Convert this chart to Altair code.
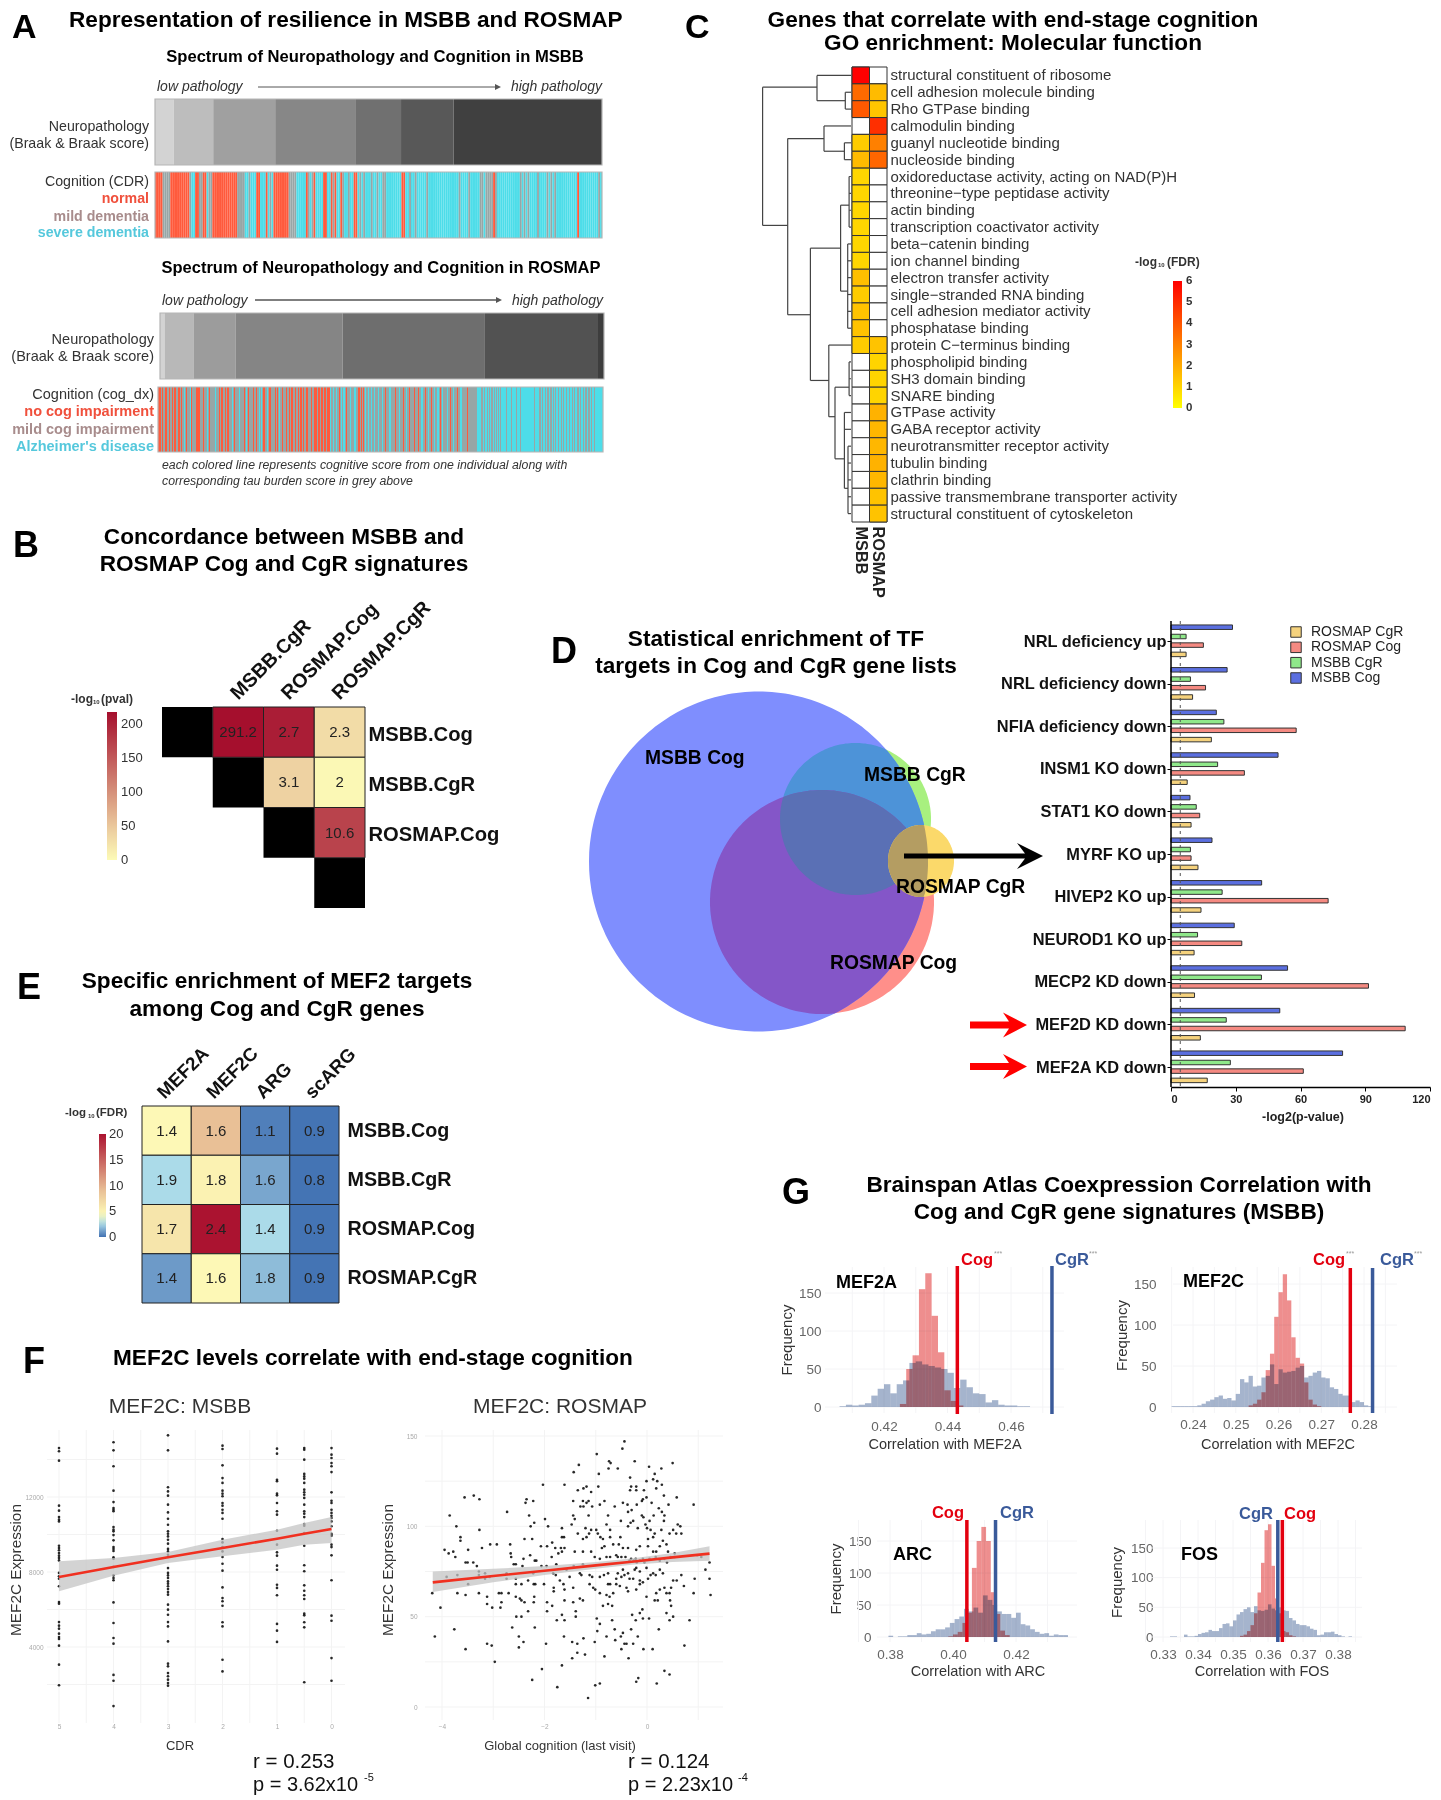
import math
import numpy as np
import pandas as pd
import altair as alt

W, H = 1425, 1792
FONT = "Liberation Sans"
TITLE = 22.6

# ---------- Panel A data ----------
msbb_braak_counts = [10, 21, 33, 43, 24, 28, 79]
msbb_braak_grey = ["#d3d3d3", "#bdbdbd", "#a0a0a0", "#878787", "#707070", "#585858", "#404040"]
rosmap_braak_counts = [5, 29, 42, 107, 142, 114, 6]
rosmap_braak_grey = ["#d3d3d3", "#b8b8b8", "#9c9c9c", "#858585", "#6e6e6e", "#525252", "#3d3d3d"]
cog_codes = ["N", "M", "S"]
cog_colors = ["#ff5a3c", "#97a6a6", "#4ddde9"]
msbb_cdr = ("NNNNMMMMNNNNNNNNNNMSSNNMMNNSMMNNNNNNNNNNNNNMMMMSSMSSSNNSSSNSMSNNNNNNNNMMMMSSSSSNMSMNSSSSNNSSNMNSSNMSSMSSNNSMSMSSSMSSMSSMMSSSSSSSSNNSSMSSMSSSSSMSSSSSSSSSSSSSSSSMSSSSMSSSSSMMSMMMMNMSSSSSSSSSSSSMSMSMSSSSMSSSSMSMSMSSSSSSSSSSSNSSSSSSSSSSMS")
rosmap_cog = ("NNNMNMMNNM" "MNMMNMNNMM" "NNMNMMSMNM" "MMSNMMMMNN" "NNMMMNMMMS" "MNMMMMMSMM" "MNMNNMMNMN"
              "NMMMSMNMMM" "MSMMMMNMSM" "NMMMMNMMNM" "MSMSMNNMMS" "MNNMMMMNMN" "MSMMNMMMNM" "MNMNNMMNMM"
              "NMNNMNMMNN" "MMMNMMNNNM" "NNMNNMNNMN" "NNSMMSMMSM" "MNMSMSSMNM" "MMSMMMSSMM" "NNMNMNMSMM"
              "SMMSMMSMMM" "SMMMSMMNMM" "MSSMMMMNMM" "MSMMMNMMSM" "MNMMMMNMMM" "NMMSSMMNMM" "SMMNMMSMMS"
              "SMNMSMMMMS" "MMNMMSMMMN" "MMSSMMMMMN" "MMMMMMMMMS" "SSSMMSMSSM" "SMSMMSMSMS" "MSMSSSSSMS"
              "SSSMSSSSMS" "SSMSSSSSSS" "SSSSSSMSSS" "SMMSMSSMSM" "MSMMSMSMSS" "MSSMSMSSMS" "SMSSMSMSSM"
              "MSMSSMSMMS" "MMSMSSMSSS" "SSSSS")

# ---------- Panel B data ----------
b_names = ["MSBB.Cog", "MSBB.CgR", "ROSMAP.Cog", "ROSMAP.CgR"]
b_rows = ["MSBB.Cog", "MSBB.Cog", "MSBB.Cog", "MSBB.CgR", "MSBB.CgR", "ROSMAP.Cog"]
b_cols = ["MSBB.CgR", "ROSMAP.Cog", "ROSMAP.CgR", "ROSMAP.Cog", "ROSMAP.CgR", "ROSMAP.CgR"]
b_color_val = [218, 205, 30, 40, 2, 170]
b_text = ["291.2", "2.7", "2.3", "3.1", "2", "10.6"]

# ---------- Panel C data ----------
c_terms = ["structural constituent of ribosome", "cell adhesion molecule binding", "Rho GTPase binding",
           "calmodulin binding", "guanyl nucleotide binding", "nucleoside binding",
           "oxidoreductase activity, acting on NAD(P)H", "threonine\u2212type peptidase activity", "actin binding",
           "transcription coactivator activity", "beta\u2212catenin binding", "ion channel binding",
           "electron transfer activity", "single\u2212stranded RNA binding", "cell adhesion mediator activity",
           "phosphatase binding", "protein C\u2212terminus binding", "phospholipid binding", "SH3 domain binding",
           "SNARE binding", "GTPase activity", "GABA receptor activity", "neurotransmitter receptor activity",
           "tubulin binding", "clathrin binding", "passive transmembrane transporter activity",
           "structural constituent of cytoskeleton"]
c_msbb = [6, 3.5, 3.9, None, 1.2, 1.6, .95, .95, .95, .95, .95, .95, 1.5, 1.2, 1.4, 1.4, 1.2,
          None, None, None, None, None, None, None, None, None, None]
c_rosmap = [None, 1.6, 1.35, 4.9, 3, 3.6, None, None, None, None, None, None, None, None, None, None, 1.4,
            1.0, 1.0, 1.0, 1.8, 1.7, 1.7, 1.8, 1.7, 1.4, 1.4]
dend_h = [(.7, 34, 88.4), (8.9, 63.3, 88.4), (0, 0, 34), (1.5, 5.7, 34), (1, 0, 5.7), (2, 0, 5.7),
          (3.75, 27, 63.3), (14.2, 40.6, 63.3), (3, 0, 27), (4.5, 6.6, 27), (4, 0, 6.6), (5, 0, 6.6),
          (10.25, 10.4, 40.6), (18.1, 22.2, 40.6), (7.7, 1.9, 10.4), (12.8, 3.3, 10.4), (6, 0, 1.9), (7, 0, 1.9),
          (8, 0, 1.9), (9, 0, 1.9), (10, 0, 3.3), (11, 0, 3.3), (12, 0, 3.3), (13, 0, 3.3), (14, 0, 3.3), (15, 0, 3.3),
          (16, 0, 22.2), (20.25, 16, 22.2), (18.5, 1.9, 16), (22.75, 6.6, 16), (17, 0, 1.9), (18, 0, 1.9), (19, 0, 1.9),
          (20, 0, 6.6), (21, 0, 6.6), (22, 0, 3), (23, 0, 3), (24, 0, 3), (25, 0, 3), (26, 0, 3), (24.5, 3, 6.6)]
dend_v = [(88.4, .7, 8.9), (34, 0, 1.5), (5.7, 1, 2), (63.3, 3.75, 14.2), (27, 3, 4.5), (6.6, 4, 5),
          (40.6, 10.25, 18.1), (10.4, 7.7, 12.8), (1.9, 6, 9), (3.3, 10, 15), (22.2, 16, 20.25),
          (16, 18.5, 22.75), (1.9, 17, 19), (6.6, 20, 24.5), (3, 22, 26)]

# ---------- Panel D data ----------
d_targets = ["NRL deficiency up", "NRL deficiency down", "NFIA deficiency down", "INSM1 KO down", "STAT1 KO down",
             "MYRF KO up", "HIVEP2 KO up", "NEUROD1 KO up", "MECP2 KD down", "MEF2D KD down", "MEF2A KD down"]
d_msbb_cog = [28.5, 26, 21, 49.6, 8.8, 19, 42, 29.3, 54, 50.4, 79.5]
d_msbb_cgr = [7, 9, 24.5, 21.6, 11.7, 9, 23.7, 12.3, 41.9, 25.6, 27.5]
d_rosmap_cog = [15, 16, 58, 34, 13.3, 9.3, 72.8, 32.8, 91.5, 108.5, 61.3]
d_rosmap_cgr = [7, 10, 18.7, 7.5, 9.3, 12.5, 13.9, 10.7, 10.9, 13.6, 16.8]
d_series_names = ["ROSMAP CgR", "ROSMAP Cog", "MSBB CgR", "MSBB Cog"]
d_series_colors = ["#f5d27d", "#f58a82", "#8fe88a", "#5b6fe0"]
d_ticks = [0, 30, 60, 90, 120]
d_cutoff = [4.3]
venn_names = ["MSBB Cog", "MSBB CgR", "ROSMAP Cog", "ROSMAP CgR"]
venn_cx = [758.5, 855.5, 822, 921]
venn_cy = [861.5, 819, 902, 861]
venn_rx = [169.5, 75.5, 112, 33]
venn_ry = [170, 76, 112, 36]

# ---------- Panel E data ----------
e_cols = ["MEF2A", "MEF2C", "ARG", "scARG"]
e_rows = ["MSBB.Cog", "MSBB.CgR", "ROSMAP.Cog", "ROSMAP.CgR"]
e_color_val = [[4.5, 9, .3, 0], [2.5, 5, 1.3, 0], [6, 20, 2.5, 0], [1, 4.5, 1.8, 0]]
e_text = [["1.4", "1.6", "1.1", "0.9"], ["1.9", "1.8", "1.6", "0.8"], ["1.7", "2.4", "1.4", "0.9"], ["1.4", "1.6", "1.8", "0.9"]]

# ---------- Panel F data ----------
msbb_cols = {
    5: [14.61, 14.44, 13.94, 11.54, 11.27, 10.93, 10.79, 10.70, 9.40, 9.28, 9.16, 9.01, 8.87, 8.75, 8.62, 7.95, 7.77, 7.64, 7.24, 6.40, 6.31, 5.33, 5.14, 4.98, 4.71, 4.53, 4.43, 4.07, 3.06, 1.96],
    4: [14.92, 14.49, 13.64, 12.34, 11.73, 11.41, 11.32, 11.24, 10.4, 10.26, 10.17, 9.97, 9.69, 9.33, 9.23, 9.12, 8.78, 8.71, 8.27, 7.82, 7.68, 7.56, 6.38, 5.28, 4.48, 4.18, 2.51, 2.2, .85],
    3: [15.29, 14.49, 12.52, 12.3, 12.07, 11.59, 11.18, 10.84, 10.52, 10.17, 10.04, 9.9, 9.72, 9.51, 9.23, 9.1, 8.92, 8.8, 8.21, 7.95, 7.82, 7.68, 7.5, 7.38, 7.24, 7.09, 6.93, 6.79, 6.26, 5.99, 5.72, 5.33, 5.1, 4.3, 3.11, 2.97, 2.61, 2.44, 2.26, 2.08, 1.94],
    2: [14.74, 14.56, 13.69, 13.01, 12.75, 12.34, 12.18, 12.04, 11.68, 11.54, 11.32, 11.15, 10.84, 9.76, 9.58, 9.33, 9.1, 8.8, 8.44, 8.07, 7.18, 6.61, 6.44, 6.2, 5.32, 5.1, 3.32, 2.7],
    1: [14.58, 14.31, 12.92, 12.84, 12.18, 12.09, 11.68, 11.24, 11.06, 10.2, 9.46, 9.05, 8.87, 8.34, 8.12, 7.32, 7.15, 6.76, 5.23, 4.87, 4.27],
    .5: [14.61, 14.52, 13.99, 13.23, 13.1, 12.98, 12.75, 12.39, 12.25, 12.12, 11.95, 11.59, 11.24, 11.11, 10.93, 10.56, 10.47, 10.08, 9.4, 8.36, 8.04, 7.29, 7.0, 6.76, 6.56, 5.78, 5.69, 5.32, 5.05, 2.12],
    0: [14.61, 14.26, 14.08, 13.81, 13.64, 13.33, 12.25, 11.8, 11.68, 11.32, 11.15, 11.0, 10.88, 10.7, 10.44, 10.03, 9.94, 9.46, 9.33, 8.89, 7.56, 5.67, 5.4, 3.41, 2.2],
}
msbb_fit_x = [5, 4, 3, 2, 1, .5, 0]
msbb_fit = [7733, 8266, 8782, 9280, 9778, 10044, 10293]
msbb_lo = [6968, 7804, 8480, 8835, 9191, 9457, 9546]
msbb_hi = [8568, 8746, 9066, 9724, 10258, 10613, 10933]
rosmap_points = [
 (-.44,147),(-.48,143),(-.98,140),(-.24,136),(.5,135),(-.74,136),(-.71,135),(-.75,132),(-.57,132),(-1.33,134),(-1.43,130),(-.94,129),(.04,133),(.28,132),(.15,129),(-.33,127),
 (-2.03,123),(-1.61,123),(-.95,122),(-1.18,122),(-1.35,120),(-1.24,121),(-1.09,119),(-.31,122),(-.21,122),(-.33,120),(-.06,120),(-.01,125),(.12,126),(.2,125),(.29,123),(.18,121),(-.21,120),
 (-3.38,117),(-3.56,116),(-3.27,115),(-2.35,115),(-2.37,113),(-2.22,114),(-1.44,114),(-1.25,114),(-1.18,113),(-1.14,114),(-1.3,111),(-1.24,111),(-1.07,111),(-.92,112),(-.83,114),(-.47,113),(-.38,112),(-.63,111),
 (-.01,116),(-.08,115),(-.1,114),(.33,117),(.58,116),(.42,112),(.91,112),(.09,113),(.23,110),(.29,108),(.34,106),(-.2,112),(-.3,109),(-2.73,108),(-3.85,106),(-2.3,106),(-1.44,106),(-1.41,104),(-1.14,106),(-.76,106),
 (-1.99,104),(-2.2,102),(-.51,103),(-.37,108),(-.27,103),(-.32,102),(-.1,106),(-.07,105),(.05,103),(-.03,101),(0,99),(.13,106),(.33,103),(.6,101),(.65,100),(-3.72,100),(-2.27,100),(-1.93,100),(-1.66,99),(-1.47,101),
 (-.79,101),(-.72,98),(-1.2,99),(-1.09,98),(-.99,98),(-3.27,98),(-.37,100),(-.18,99),(.07,98),(.28,98),(.51,98),(.44,96),(.57,96),(.67,96),(.15,96),(.02,93),(.12,94),
 (-1.35,96),(-1.13,96),(-1.18,94),(-1.25,93),(-1.66,94),(-1.62,94),(-.96,96),(-.91,94),(-.86,93),(-.72,94),(-.52,94),(-3.64,94),(-3.64,92),(-2.39,93),(-2.24,93),(-1.85,91),(-3.06,90),(-2.93,90),(-2.67,90),
 (-3.95,87),(-3.87,85),(-3.78,86),(-3.74,83),(-3.49,87),(-3.22,88),(-2.07,89),(-1.95,89),(-1.79,88),(-1.68,88),(-1.61,88),(-1.41,86),(-1.25,86),(-1.09,86),(-.88,88),(-.83,89),(-.66,90),(-.55,90),(-.47,88),(-.37,88),(-.21,87),(-.14,89),(.02,89),(.25,89),(.38,90),(.31,92),(.18,86),(.12,86),(.41,86),(.54,85),
 (-2.66,85),(-2.65,83),(-2.28,84),(-2.41,82),(-1.86,83),(-1.73,85),(-1.66,86),
 (-3.54,80),(-3.5,80),(-3.39,80),(-3.32,78),(-2.6,79),(-2.56,79),(-2.43,78),(-2.19,81),(-2.16,81),(-2.06,78),(-1.96,78),(-1.77,79),(-1.43,78),(-1.25,79),(-1.02,83),(-.92,82),(-.79,83),(-.72,83),(-.6,84),(-.57,83),(-.5,83),(-.42,83),(-.34,81),(-.31,82),(-.26,81),(-.22,82),(-.2,80),(-.14,81),(-.08,82),(-.05,80),(.05,82),(.17,83),(.25,81),(.34,82),(.39,80),(.46,83),(.54,83),(.98,84),(1.06,83),(1.22,80),(1.14,76),(1.22,71),(1.24,62),(.93,71),(.91,63),(.67,73),(.72,67),(.47,66),(.44,63),
 (-3.7,73),(-3.91,72),(-3.28,75),(-3.28,73),(-3.16,74),(-3.16,71),(-3.07,72),(-2.74,74),(-2.74,71),(-3.49,68),(-2.56,71),(-2.56,68),(-2.45,68),(-2.32,70),(-2.22,74),(-2.21,68),(-2.18,68),(-2.01,68),(-1.83,74),(-1.78,73),(-1.57,76),(-1.51,72),(-1.7,70),(-1.63,68),(-1.82,66),(-1.82,64),(-1.61,65),(-1.44,66),(-1.31,74),(-1.28,73),(-1.12,73),(-1.07,72),(-1.12,68),(-1.05,66),(-1.01,65),(-.92,72),(-.84,73),(-.76,74),(-.76,68),(-.72,68),(-.6,71),(-.57,74),(-.5,72),(-.47,76),(-.44,73),(-.37,74),(-.34,71),(-.27,71),(-.24,76),(-.21,77),(-.14,75),(-.14,70),(-.6,68),(-.53,67),(-.4,66),(-.37,64),(-.21,65),(-.14,68),(-.01,77),(.07,73),(.12,74),(.17,73),(.02,71),(-.08,69),(.25,76),(.31,74),(.51,70),(.58,70),(.34,66),(.25,65),(.18,63),(.38,63),
 (-4.19,63),(-4.03,55),(-3.7,63),(-3.54,62),(-3.28,63),(-3.12,61),(-3.12,57),(-3.02,55),(-2.89,63),(-2.84,63),(-2.84,58),(-2.86,55),(-2.7,63),(-2.56,61),(-2.48,60),(-2.45,59),(-2.39,58),(-2.2,61),(-2.21,58),(-1.95,58),(-1.85,56),(-1.95,53),(-1.76,48),(-1.66,51),(-1.61,48),(-1.61,59),(-1.44,58),(-1.39,53),(-1.39,50),(-1.31,60),(-1.25,59),(-.92,63),(-.86,56),(-.76,57),(-.68,56),(-.79,62),(-.73,61),(-.66,63),(-.98,49),(-.92,46),(-.68,48),(-.97,42),(-.63,43),(-.47,41),(-.29,51),(-.14,52),(-.22,48),(-.08,49),(.04,49),(-.01,61),(.15,59),(.21,59),(-.09,54),(.45,59),(.47,56),(.51,50),(.44,48),(.38,52),(.83,48),(.23,43),(-.31,43),(-.18,39),
 (-4.14,39),(-3.76,43),(-3.54,32),(-3.12,35),(-3.03,34),(-2.97,25),(-2.63,44),(-2.55,50),(-2.45,50),(-2.32,53),(-2.5,39),(-2.41,36),(-2.5,33),(-2.19,44),(-1.97,35),(-2.05,21),(-2.24,15),(-1.75,11),(-1.66,23),(-1.62,39),(-1.46,36),(-1.36,35),(-1.24,38),(-1.02,36),(-1.46,27),(-1.36,30),(-1.21,29),(-.83,28),(-1.15,5),(-1.01,12),(-.92,13),(-.79,39),(-.62,37),(-.51,39),(-.44,35),(-.4,35),(-.5,32),(-.36,27),(-.27,35),(-.07,32),(.11,32),(-.17,16),(-.21,14),(.19,13),(.34,20),(.44,18),(.73,34),
]
rosmap_fit_x = [-4.18, -3, -2, -1, -.3, .5, 1.22]
rosmap_fit = [69, 72.5, 75.4, 78.4, 80.4, 82.8, 84.9]
rosmap_lo = [63.7, 69, 73, 76.5, 78.8, 80.3, 81]
rosmap_hi = [75, 76.5, 78, 80.3, 82.2, 85.3, 89]

# ---------- Panel G data ----------
g_mef2a_red = [.425, .002, [4, 50, 68, 155, 176, 120, 72, 22, 8, 2]]
g_mef2a_blue = [.406, .002, [1, 3, 2, 3, 5, 15, 24, 30, 18, 30, 35, 58, 60, 56, 54, 52, 50, 45, 25, 36, 26, 18, 17, 6, 9, 3, 2, 2, 1, 1]]
g_mef2c_red = [.253, .001, [2, 4, 9, 18, 45, 65, 110, 140, 162, 130, 85, 60, 53, 30, 9, 3, 1]]
g_mef2c_blue = [.235, .001, [1, 1, 1, 1, 1, 1, 2, 4, 7, 9, 12, 14, 10, 11, 8, 16, 34, 30, 38, 25, 26, 36, 38, 52, 28, 46, 42, 43, 44, 48, 50, 36, 38, 42, 44, 36, 35, 24, 22, 16, 14, 14, 6, 8, 6, 2, 1]]
g_arc_red = [.3985, .0015, [1, 4, 8, 22, 38, 108, 150, 172, 150, 70, 36, 10, 3]]
g_arc_blue = [.3795, .0015, [2, 0, 1, 1, 3, 3, 6, 4, 5, 9, 12, 12, 15, 22, 28, 32, 44, 40, 46, 38, 65, 58, 50, 40, 36, 36, 30, 38, 20, 18, 12, 8, 5, 6, 2, 4, 3, 3]]
g_fos_red = [.352, .001, [2, 4, 10, 20, 40, 75, 125, 180, 190, 120, 65, 40, 10, 8, 3, 1]]
g_fos_blue = [.332, .001, [1, 1, 0, 0, 4, 1, 1, 2, 5, 7, 8, 12, 10, 10, 15, 22, 23, 18, 28, 38, 42, 47, 50, 42, 52, 45, 44, 46, 55, 48, 45, 50, 45, 44, 32, 28, 22, 20, 20, 18, 14, 12, 3, 4, 8, 8, 9, 5, 3, 1, 0, 1]]
g_lines = {"MEF2A": (.4431, .4729), "MEF2C": (.2768, .2820), "ARC": (.4044, .4135), "FOS": (.3641, .3628)}
COG_RED, CGR_BLUE = "#e3000f", "#3a5a9a"
ONE = pd.DataFrame({"a": [0]})
layers = []


def lin(d0, d1, p0, p1):
    return alt.Scale(type="linear", domain=[d0, d1], range=[p0 - 8, p1 - 8], nice=False, zero=False)


def band(dom, p0, p1):
    return alt.Scale(type="band", domain=dom, range=[p0 - 8, p1 - 8], paddingInner=0, paddingOuter=0)


def pts(dom, p0, p1):
    return alt.Scale(type="point", domain=dom, range=[p0 - 8, p1 - 8], padding=0)


def T(s, x, y, size=14, bold=False, italic=False, color="#000", align="left", angle=0):
    kw = dict(fontSize=size, font=FONT, color=color, align=align, baseline="middle")
    if bold:
        kw["fontWeight"] = "bold"
    if italic:
        kw["fontStyle"] = "italic"
    if angle:
        kw["angle"] = angle
    layers.append(alt.Chart(pd.DataFrame({"t": [s]})).mark_text(**kw).encode(
        x=alt.value(x - 8), y=alt.value(y - 8), text="t:N"))


def R(x1, y1, x2, y2, color="#000", width=1.0):
    layers.append(alt.Chart(ONE).mark_rule(color=color, strokeWidth=width).encode(
        x=alt.value(x1 - 8), x2=alt.value(x2 - 8), y=alt.value(y1 - 8), y2=alt.value(y2 - 8)))


def shape(path, x, y, color):
    layers.append(alt.Chart(ONE).mark_point(shape=path, size=4, filled=True, fill=color, opacity=1, strokeWidth=0).encode(
        x=alt.value(x - 8), y=alt.value(y - 8)))


def frame(x0, x1, y0, y1, color="#b5b5b5", width=1.2):
    layers.append(alt.Chart(ONE).mark_rect(fillOpacity=0, stroke=color, strokeWidth=width).encode(
        x=alt.value(x0 - 8), x2=alt.value(x1 - 8), y=alt.value(y0 - 8), y2=alt.value(y1 - 8)))


def grey_bar(counts, greys, x0, x1, y0, y1):
    edges = np.cumsum([0] + counts)
    df = pd.DataFrame({"s": edges[:-1], "e": edges[1:], "stage": list(range(len(counts)))})
    layers.append(alt.Chart(df).mark_rect().encode(
        x=alt.X("s:Q", scale=lin(0, int(edges[-1]), x0, x1), axis=None),
        x2="e:Q",
        y=alt.value(y0 - 8), y2=alt.value(y1 - 8),
        color=alt.Color("stage:N", scale=alt.Scale(domain=list(range(len(counts))), range=greys), legend=None)))
    frame(x0, x1, y0, y1)


def strip(codes, x0, x1, y0, y1):
    df = pd.DataFrame({"s": range(len(codes)), "e": range(1, len(codes) + 1), "c": list(codes)})
    layers.append(alt.Chart(df).mark_rect().encode(
        x=alt.X("s:Q", scale=lin(0, len(codes), x0, x1), axis=None),
        x2="e:Q",
        y=alt.value(y0 - 8), y2=alt.value(y1 - 8),
        color=alt.Color("c:N", scale=alt.Scale(domain=cog_codes, range=cog_colors), legend=None)))
    frame(x0, x1, y0, y1)


# ------------------------------------------------------------- Panel A
T("A", 12, 28, 34, True)
T("Representation of resilience in MSBB and ROSMAP", 69, 19.5, TITLE, True)
T("Spectrum of Neuropathology and Cognition in MSBB", 375, 57, 16.6, True, align="center")
T("low pathology", 157, 87, 14, italic=True, color="#333")
R(258, 87, 498, 87, "#555", 1)
shape("M 0 0 L -6 -3 L -6 3 Z", 501, 87, "#555")
T("high pathology", 602, 87, 14, italic=True, color="#333", align="right")
grey_bar(msbb_braak_counts, msbb_braak_grey, 155, 602, 99, 165)
strip(msbb_cdr, 155, 602, 172, 238)
for s, y, c, b in [("Neuropathology", 127, "#333", False), ("(Braak & Braak score)", 144, "#333", False),
                   ("Cognition (CDR)", 182, "#333", False), ("normal", 199, "#f0503c", True),
                   ("mild dementia", 217, "#a88c8c", True), ("severe dementia", 233, "#55c8dc", True)]:
    T(s, 149, y, 14.2, b, color=c, align="right")
T("Spectrum of Neuropathology and Cognition in ROSMAP", 381, 268, 16.5, True, align="center")
T("low pathology", 162, 301, 14, italic=True, color="#333")
R(255, 300, 498, 300, "#555", 1.5)
shape("M 0 0 L -6 -3 L -6 3 Z", 502, 300, "#555")
T("high pathology", 603, 301, 14, italic=True, color="#333", align="right")
grey_bar(rosmap_braak_counts, rosmap_braak_grey, 160, 604, 313, 379)
strip(rosmap_cog, 158, 603, 387, 452)
for s, y, c, b in [("Neuropathology", 340, "#333", False), ("(Braak & Braak score)", 357, "#333", False),
                   ("Cognition (cog_dx)", 395, "#333", False), ("no cog impairment", 412, "#f0503c", True),
                   ("mild cog impairment", 430, "#a88c8c", True), ("Alzheimer's disease", 447, "#55c8dc", True)]:
    T(s, 154, y, 14.5, b, color=c, align="right")
T("each colored line represents cognitive score from one individual along with", 162, 465, 12.3, italic=True, color="#333")
T("corresponding tau burden score in grey above", 162, 481, 12.3, italic=True, color="#333")

# ------------------------------------------------------------- Panel B
T("B", 13, 546, 36, True)
T("Concordance between MSBB and", 284, 537, TITLE, True, align="center")
T("ROSMAP Cog and CgR signatures", 284, 564, TITLE, True, align="center")
bx = band(b_names, 162, 365)
by = band(b_names, 707, 908)
layers.append(alt.Chart(pd.DataFrame({"r": b_names, "c": b_names})).mark_rect(color="#000").encode(
    x=alt.X("c:N", scale=bx, axis=None), y=alt.Y("r:N", scale=by, axis=None)))
b_df = pd.DataFrame({"r": b_rows, "c": b_cols, "v": b_color_val, "t": b_text})
b_color = alt.Scale(domain=[-.5, 35, 218], range=["#fcfab6", "#f0d7a5", "#a50f2d"], interpolate="rgb")
layers.append(alt.Chart(b_df).mark_rect(stroke="#222", strokeWidth=1).encode(
    x=alt.X("c:N", scale=bx, axis=alt.Axis(orient="top", offset=-(696 - 8), values=b_names[1:], labelAngle=-45,
            labelAlign="left", labelBaseline="middle", labelFontSize=19.7, labelFontWeight="bold", labelFont=FONT, labelColor="#111",
            ticks=False, domain=False, title=None, labelPadding=0, labelOffset=-4)),
    y=alt.Y("r:N", scale=by, axis=alt.Axis(orient="right", offset=-(W - (368 - 8)), values=b_names[:3],
            labelFontSize=20.2, labelFontWeight="bold", labelFont=FONT, labelColor="#111", ticks=False, domain=False, title=None, labelPadding=0, labelAlign="left", labelOffset=2.5)),
    color=alt.Color("v:Q", scale=b_color, legend=alt.Legend(orient="none", legendX=107 - 8, legendY=712 - 8, title=None,
                    gradientLength=148, gradientThickness=10, values=[0, 50, 100, 150, 200], labelFontSize=13,
                    labelFont=FONT, labelOffset=4, labelColor="#333", padding=0, gradientStrokeWidth=0))))
layers.append(alt.Chart(b_df).mark_text(fontSize=15, font=FONT, color="#222").encode(
    x=alt.X("c:N", scale=bx, axis=None), y=alt.Y("r:N", scale=by, axis=None), text="t:N"))
T("-log", 71, 699, 12, True, color="#333")
T("10", 93, 702, 6, True, color="#333")
T("(pval)", 101, 699, 12, True, color="#333")

# ------------------------------------------------------------- Panel C
T("C", 685, 28, 34, True)
T("Genes that correlate with end-stage cognition", 1013, 19.5, TITLE, True, align="center")
T("GO enrichment: Molecular function", 1013, 42.5, TITLE, True, align="center")
c_cols = ["MSBB", "ROSMAP"]
cx = band(c_cols, 852, 887)
cy = band(c_terms, 67, 522)
c_df = pd.DataFrame({"term": c_terms * 2, "c": ["MSBB"] * 27 + ["ROSMAP"] * 27, "v": c_msbb + c_rosmap})
layers.append(alt.Chart(c_df).mark_rect(fill="#fff", stroke="#333", strokeWidth=1).encode(
    x=alt.X("c:N", scale=cx, axis=alt.Axis(orient="bottom", offset=(526 - 8) - H, labelAngle=90, labelAlign="left",
            labelBaseline="middle", labelFontSize=16.3, labelFontWeight="bold", labelFont=FONT, labelColor="#222", ticks=False, domain=False,
            title=None, labelPadding=0)),
    y=alt.Y("term:N", scale=cy, axis=alt.Axis(orient="right", offset=-(W - (890 - 8)), labelFontSize=15, labelFont=FONT,
            labelColor="#333", ticks=False, domain=False, title=None, labelPadding=0, labelAlign="left", labelLimit=400))))
c_color = alt.Scale(domain=[-.01, 6.01], range=["#ffff00", "#ff0000"], interpolate="rgb")
layers.append(alt.Chart(c_df.dropna()).mark_rect(stroke="#333", strokeWidth=1).encode(
    x=alt.X("c:N", scale=cx, axis=None), y=alt.Y("term:N", scale=cy, axis=None),
    color=alt.Color("v:Q", scale=c_color, legend=alt.Legend(orient="none", legendX=1173 - 8, legendY=281 - 8, title=None,
                    gradientLength=127, gradientThickness=9, values=[0, 1, 2, 3, 4, 5, 6], labelFontSize=11.5, labelFontWeight="bold",
                    labelFont=FONT, labelOffset=4, labelColor="#333", padding=0, gradientStrokeWidth=0))))
dx = lin(0, 88.4, 851, 762.6)
dy = lin(0, 26, 75.4, 513.6)
layers.append(alt.Chart(pd.DataFrame(dend_h, columns=["r", "a", "b"])).mark_rule(color="#444", strokeWidth=1.2).encode(
    x=alt.X("a:Q", scale=dx, axis=None), x2="b:Q", y=alt.Y("r:Q", scale=dy, axis=None)))
layers.append(alt.Chart(pd.DataFrame(dend_v, columns=["h", "a", "b"])).mark_rule(color="#444", strokeWidth=1.2).encode(
    x=alt.X("h:Q", scale=dx, axis=None), y=alt.Y("a:Q", scale=dy, axis=None), y2="b:Q"))
T("-log", 1135, 262, 12, True, color="#333")
T("10", 1158, 265, 6, True, color="#333")
T("(FDR)", 1167, 262, 12, True, color="#333")


# ------------------------------------------------------------- Panel D
def boundary(i, n=240):
    th = np.linspace(0, 2 * math.pi, n, endpoint=False)
    return np.c_[venn_cx[i] + venn_rx[i] * np.cos(th), venn_cy[i] + venn_ry[i] * np.sin(th)]


def inside(i, p):
    return ((p[:, 0] - venn_cx[i]) / venn_rx[i]) ** 2 + ((p[:, 1] - venn_cy[i]) / venn_ry[i]) ** 2 <= 1.0


def region(idx, color):
    pnts = []
    for i in idx:
        b = boundary(i)
        keep = np.ones(len(b), bool)
        for j in idx:
            if j != i:
                keep &= inside(j, b)
        pnts.append(b[keep])
    p = np.vstack(pnts)
    c = p.mean(axis=0)
    order = np.argsort(np.arctan2(p[:, 1] - c[1], p[:, 0] - c[0]))
    p = p[order] - c
    path = "M " + " L ".join(f"{a:.1f} {b:.1f}" for a, b in p) + " Z"
    shape(path, float(c[0]), float(c[1]), color)


T("D", 551, 652, 36, True)
T("Statistical enrichment of TF", 776, 639, TITLE, True, align="center")
T("targets in Cog and CgR gene lists", 776, 666, TITLE, True, align="center")
region([2], "#ff8f8a")
region([1], "#a8f07f")
region([0], "#7f8efe")
region([0, 1], "#4d93d8")
region([0, 2], "#8456c8")
region([0, 1, 2], "#5a70b5")
region([3], "#fbd96a")
region([3, 0], "#b49d62")
T("MSBB Cog", 645, 758, 19.3, True)
T("MSBB CgR", 864, 775, 19.3, True)
T("ROSMAP CgR", 896, 887, 19.3, True)
T("ROSMAP Cog", 830, 963, 19.3, True)
shape("M 0 0 L -26 -13 L -18 -2.5 L -139 -2.5 L -139 2.5 L -18 2.5 L -26 13 Z", 1043, 856, "#000")
for yy in [1025, 1066.5]:
    shape("M 0 0 L -24 -12.5 L -18 -3.5 L -57 -3.5 L -57 3.5 L -18 3.5 L -24 12.5 Z", 1027, yy, "#ff0000")

d_x = lin(0, 120, 1171, 1430)
d_offsets = {"MSBB Cog": -13.8, "MSBB CgR": -4.5, "ROSMAP Cog": 4.1, "ROSMAP CgR": 13.4}
d_vals = {"MSBB Cog": d_msbb_cog, "MSBB CgR": d_msbb_cgr, "ROSMAP Cog": d_rosmap_cog, "ROSMAP CgR": d_rosmap_cgr}
for name, col in zip(d_series_names, d_series_colors):
    off = d_offsets[name]
    layers.append(alt.Chart(pd.DataFrame({"t": d_targets, "v": d_vals[name]})).mark_bar(
        height=4.5, color=col, stroke="#333", strokeWidth=1).encode(
        x=alt.X("v:Q", scale=d_x, axis=None),
        y=alt.Y("t:N", scale=pts(d_targets, 641 + off, 1067 + off), axis=None)))
layers.append(alt.Chart(pd.DataFrame({"t": d_targets, "v": [0] * 11})).mark_point(opacity=0).encode(
    x=alt.X("v:Q", scale=d_x, axis=alt.Axis(orient="bottom", offset=(1087 - 8) - H, values=d_ticks, labelFontSize=11,
            labelFont=FONT, labelFontWeight="bold", labelColor="#222", tickColor="#000", tickSize=4, domainColor="#000", domainWidth=1.5,
            title=None, grid=False, labelPadding=2, format="d", labelFlush=True, labelOverlap=False)),
    y=alt.Y("t:N", scale=pts(d_targets, 641, 1067), axis=alt.Axis(orient="left", offset=-(1171 - 8), labelFontSize=16.4,
            labelFont=FONT, labelFontWeight="bold", labelColor="#111", tickColor="#000", tickSize=4, domain=False, title=None,
            grid=False, labelPadding=1, labelLimit=300))))
R(1171, 621, 1171, 1087, "#000", 1.5)
layers.append(alt.Chart(pd.DataFrame({"v": d_cutoff})).mark_rule(color="#555", strokeDash=[3, 4], strokeWidth=1).encode(
    x=alt.X("v:Q", scale=d_x, axis=None), y=alt.value(621 - 8), y2=alt.value(1087 - 8)))
T("-log2(p-value)", 1303, 1117, 12.5, True, color="#222", align="center")
leg_y = pts(d_series_names, 632, 678)
leg_df = pd.DataFrame({"n": d_series_names})
layers.append(alt.Chart(leg_df).mark_point(shape="square", filled=True, size=110, stroke="#333", strokeWidth=1, opacity=1).encode(
    x=alt.value(1296 - 8), y=alt.Y("n:N", scale=leg_y, axis=None),
    fill=alt.Color("n:N", scale=alt.Scale(domain=d_series_names, range=d_series_colors), legend=None)))
layers.append(alt.Chart(leg_df).mark_text(align="left", fontSize=14, font=FONT, color="#222").encode(
    x=alt.value(1311 - 8), y=alt.Y("n:N", scale=leg_y, axis=None), text="n:N"))

# ------------------------------------------------------------- Panel E
T("E", 17, 988, 36, True)
T("Specific enrichment of MEF2 targets", 277, 981, TITLE, True, align="center")
T("among Cog and CgR genes", 277, 1009, TITLE, True, align="center")
ex = band(e_cols, 142, 339)
ey = band(e_rows, 1106, 1303)
e_df = pd.DataFrame({
    "r": [r for r in e_rows for _ in e_cols], "c": e_cols * 4,
    "v": [v for row in e_color_val for v in row], "t": [t for row in e_text for t in row]})
e_color = alt.Scale(domain=[-.05, 1.2, 2.5, 4.5, 9, 20.05],
                    range=["#4272b3", "#75a2cc", "#abdbe9", "#fdf8b6", "#e9c096", "#ab1230"], interpolate="rgb")
layers.append(alt.Chart(e_df).mark_rect(stroke="#222", strokeWidth=1).encode(
    x=alt.X("c:N", scale=ex, axis=alt.Axis(orient="top", offset=-(1095 - 8), labelAngle=-45, labelAlign="left",
            labelBaseline="middle", labelFontSize=18.8, labelFontWeight="bold", labelFont=FONT, labelColor="#111", ticks=False, domain=False,
            title=None, labelPadding=0, labelOffset=-6)),
    y=alt.Y("r:N", scale=ey, axis=alt.Axis(orient="right", offset=-(W - (347 - 8)), labelFontSize=19.7, labelFontWeight="bold", labelFont=FONT,
            labelColor="#111", ticks=False, domain=False, title=None, labelPadding=0, labelAlign="left", labelLimit=300)),
    color=alt.Color("v:Q", scale=e_color, legend=alt.Legend(orient="none", legendX=99 - 8, legendY=1134 - 8, title=None,
                    gradientLength=103, gradientThickness=7, values=[0, 5, 10, 15, 20], labelFontSize=13, labelFont=FONT,
                    labelOffset=3, labelColor="#333", padding=0, gradientStrokeWidth=0))))
layers.append(alt.Chart(e_df).mark_text(fontSize=15, font=FONT, color="#222").encode(
    x=alt.X("c:N", scale=ex, axis=None), y=alt.Y("r:N", scale=ey, axis=None), text="t:N"))
T("-log", 65, 1113, 11.5, True, color="#333")
T("10", 88, 1116, 6, True, color="#333")
T("(FDR)", 96, 1113, 11.5, True, color="#333")

# ------------------------------------------------------------- Panel F
T("F", 23, 1362, 36, True)
T("MEF2C levels correlate with end-stage cognition", 113, 1358, TITLE, True)
T("MEF2C: MSBB", 180, 1407, 21, color="#333", align="center")
T("MEF2C: ROSMAP", 560, 1407, 21, color="#333", align="center")
GRID = "#f3f3f3"
fx = lin(5, 0, 59, 331.5)
fy = lin(4000, 12000, 1647, 1497)
layers.append(alt.Chart(pd.DataFrame({"v": [5, 4.5, 4, 3.5, 3, 2.5, 2, 1.5, 1, .5, 0]})).mark_rule(color=GRID).encode(
    x=alt.X("v:Q", scale=fx, axis=None), y=alt.value(1430 - 8), y2=alt.value(1723 - 8)))
layers.append(alt.Chart(pd.DataFrame({"v": [2000, 4000, 6000, 8000, 10000, 12000, 14000]})).mark_rule(color=GRID).encode(
    y=alt.Y("v:Q", scale=fy, axis=None), x=alt.value(47 - 8), x2=alt.value(345 - 8)))
msbb_pts = pd.DataFrame([(k, v * 1000) for k, vs in msbb_cols.items() for v in vs], columns=["x", "y"])
small = dict(labelFontSize=6.5, labelFont=FONT, labelColor="#aaa", ticks=False, domain=False, title=None, grid=False, labelPadding=1, labelFlush=False)
layers.append(alt.Chart(msbb_pts).mark_circle(size=7, color="#111", opacity=.9).encode(
    x=alt.X("x:Q", scale=fx, axis=alt.Axis(orient="bottom", offset=(1722 - 8) - H, values=[5, 4, 3, 2, 1, 0], format="d", **small)),
    y=alt.Y("y:Q", scale=fy, axis=alt.Axis(orient="left", offset=-(44 - 8), values=[4000, 8000, 12000], format="d", **small))))
msbb_fit_df = pd.DataFrame({"x": msbb_fit_x, "f": msbb_fit, "lo": msbb_lo, "hi": msbb_hi})
layers.append(alt.Chart(msbb_fit_df).mark_area(color="#c4c4c4", opacity=.75).encode(
    x=alt.X("x:Q", scale=fx, axis=None), y=alt.Y("lo:Q", scale=fy, axis=None), y2="hi:Q"))
layers.append(alt.Chart(msbb_fit_df).mark_line(color="#f03020", strokeWidth=2.6).encode(
    x=alt.X("x:Q", scale=fx, axis=None), y=alt.Y("f:Q", scale=fy, axis=None)))
T("MEF2C Expression", 16, 1570, 15.3, color="#333", align="center", angle=270)
T("CDR", 180, 1746, 13, color="#333", align="center")
T("r = 0.253", 253, 1762, 20.5, color="#111")
T("p = 3.62x10", 253, 1785, 20, color="#111")
T("-5", 364, 1778, 11, color="#111")

gx = lin(-4, 0, 442, 647)
gy = lin(0, 150, 1707, 1436)
layers.append(alt.Chart(pd.DataFrame({"v": [-4, -3, -2, -1, 0, 1]})).mark_rule(color=GRID).encode(
    x=alt.X("v:Q", scale=gx, axis=None), y=alt.value(1430 - 8), y2=alt.value(1720 - 8)))
layers.append(alt.Chart(pd.DataFrame({"v": [0, 25, 50, 75, 100, 125, 150]})).mark_rule(color=GRID).encode(
    y=alt.Y("v:Q", scale=gy, axis=None), x=alt.value(425 - 8), x2=alt.value(723 - 8)))
ros_df = pd.DataFrame(rosmap_points, columns=["x", "y"])
layers.append(alt.Chart(ros_df).mark_circle(size=7, color="#111", opacity=.9).encode(
    x=alt.X("x:Q", scale=gx, axis=alt.Axis(orient="bottom", offset=(1722 - 8) - H, values=[-4, -2, 0], format="d", **small)),
    y=alt.Y("y:Q", scale=gy, axis=alt.Axis(orient="left", offset=-(418 - 8), values=[0, 50, 100, 150], format="d", **small))))
ros_fit_df = pd.DataFrame({"x": rosmap_fit_x, "f": rosmap_fit, "lo": rosmap_lo, "hi": rosmap_hi})
layers.append(alt.Chart(ros_fit_df).mark_area(color="#c4c4c4", opacity=.75).encode(
    x=alt.X("x:Q", scale=gx, axis=None), y=alt.Y("lo:Q", scale=gy, axis=None), y2="hi:Q"))
layers.append(alt.Chart(ros_fit_df).mark_line(color="#f03020", strokeWidth=2.6).encode(
    x=alt.X("x:Q", scale=gx, axis=None), y=alt.Y("f:Q", scale=gy, axis=None)))
T("MEF2C Expression", 388, 1570, 15.3, color="#333", align="center", angle=270)
T("Global cognition (last visit)", 560, 1746, 13, color="#333", align="center")
T("r = 0.124", 628, 1762, 20.5, color="#111")
T("p = 2.23x10", 628, 1785, 20, color="#111")
T("-4", 738, 1778, 11, color="#111")

# ------------------------------------------------------------- Panel G
T("G", 782, 1193, 36, True)
T("Brainspan Atlas Coexpression Correlation with", 1119, 1185, TITLE, True, align="center")
T("Cog and CgR gene signatures (MSBB)", 1119, 1212, TITLE, True, align="center")
HG = "#f4f4f6"


def hist(name, red, blue, xm, ym, xticks, fmt, grid_x, grid_y, axis_x, axis_y, freq_x, line_y, title_x, title_y):
    sx = lin(xm[0], xm[1], xm[2], xm[3])
    sy = lin(0, 150, ym[0], ym[1])
    half = (xticks[1] - xticks[0]) / 2
    gv = [xticks[0] - half] + [t + k for t in xticks for k in (0, half)]
    layers.append(alt.Chart(pd.DataFrame({"v": gv})).mark_rule(color=HG).encode(
        x=alt.X("v:Q", scale=sx, axis=None), y=alt.value(grid_y[0] - 8), y2=alt.value(grid_y[1] - 8)))
    layers.append(alt.Chart(pd.DataFrame({"v": [0, 50, 100, 150]})).mark_rule(color=HG).encode(
        y=alt.Y("v:Q", scale=sy, axis=None), x=alt.value(grid_x[0] - 8), x2=alt.value(grid_x[1] - 8)))
    ax = dict(labelFont=FONT, labelFontSize=13.5, labelColor="#666", ticks=False, domain=False, title=None, grid=False,
              labelFlush=False, labelOverlap=False)
    for k, (spec, col) in enumerate([(blue, "#a5b4cd"), (red, "#ee8e8e")]):
        start, w, counts = spec
        df = pd.DataFrame({"a": [start + i * w for i in range(len(counts))],
                           "b": [start + (i + 1) * w for i in range(len(counts))],
                           "c": counts, "z": [0] * len(counts)})
        if k == 0:
            xa = alt.Axis(orient="bottom", offset=(axis_y - 8) - H, values=xticks, format=fmt, labelPadding=0, **ax)
            ya = alt.Axis(orient="left", offset=-(axis_x - 8), values=[0, 50, 100, 150], format="d", labelPadding=4, **ax)
        else:
            xa = ya = None
        layers.append(alt.Chart(df).mark_rect(color=col, blend="multiply").encode(
            x=alt.X("a:Q", scale=sx, axis=xa), x2="b:Q", y=alt.Y("c:Q", scale=sy, axis=ya), y2="z:Q"))
    cog, cgr = g_lines[name]
    for val, col in [(cgr, CGR_BLUE), (cog, COG_RED)]:
        layers.append(alt.Chart(pd.DataFrame({"v": [val]})).mark_rule(color=col, strokeWidth=3.5).encode(
            x=alt.X("v:Q", scale=sx, axis=None), y=alt.value(line_y[0] - 8), y2=alt.value(line_y[1] - 8)))
    T("Frequency", freq_x, (ym[1] + ym[0]) / 2 - 10, 15, color="#333", align="center", angle=270)
    T(f"Correlation with {title_x}", title_y[0], title_y[1], 14.5, color="#333", align="center")


hist("MEF2A", g_mef2a_red, g_mef2a_blue, (.42, .46, 884, 1011), (1407, 1293), [.42, .44, .46], ".2f",
     (825, 1064), (1267, 1413), 825, 1419, 787, (1266, 1414), "MEF2A", (945, 1445))
hist("MEF2C", g_mef2c_red, g_mef2c_blue, (.24, .28, 1193, 1364), (1407, 1284), [.24, .25, .26, .27, .28], ".2f",
     (1173, 1397), (1267, 1413), 1160, 1417, 1122, (1268, 1413), "MEF2C", (1278, 1445))
hist("ARC", g_arc_red, g_arc_blue, (.38, .42, 890, 1016), (1637, 1541), [.38, .40, .42], ".2f",
     (877, 1077), (1520, 1642), 875, 1647, 836, (1520, 1642), "ARC", (978, 1672))
hist("FOS", g_fos_red, g_fos_blue, (.33, .38, 1163, 1338), (1637, 1548), [.33, .34, .35, .36, .37, .38], ".2f",
     (1151, 1362), (1520, 1642), 1157, 1647, 1117, (1520, 1642), "FOS", (1262, 1672))

for s, x, y, a in [("MEF2A", 836, 1283, "left"), ("MEF2C", 1183, 1282, "left"), ("ARC", 893, 1555, "left"), ("FOS", 1181, 1555, "left")]:
    T(s, x, y, 18, True, align=a)
for s, x, y, c, a in [("Cog", 961, 1260, COG_RED, "left"), ("CgR", 1055, 1260, CGR_BLUE, "left"),
                      ("Cog", 1313, 1260, COG_RED, "left"), ("CgR", 1380, 1260, CGR_BLUE, "left"),
                      ("Cog", 964, 1513, COG_RED, "right"), ("CgR", 1000, 1513, CGR_BLUE, "left"),
                      ("CgR", 1273, 1514, CGR_BLUE, "right"), ("Cog", 1284, 1514, COG_RED, "left")]:
    T(s, x, y, 16.5, True, color=c, align=a)
for x, y in [(994, 1254), (1089, 1254), (1346, 1254), (1414, 1254)]:
    T("***", x, y, 7, color="#999")

chart = alt.layer(*layers).properties(
    width=W, height=H, autosize=alt.AutoSizeParams(type="none"), padding=0
).resolve_scale(x="independent", y="independent", color="independent", fill="independent"
).configure_view(stroke=None)

chart.save("out.html", embed_options={"renderer": "svg", "actions": False})
